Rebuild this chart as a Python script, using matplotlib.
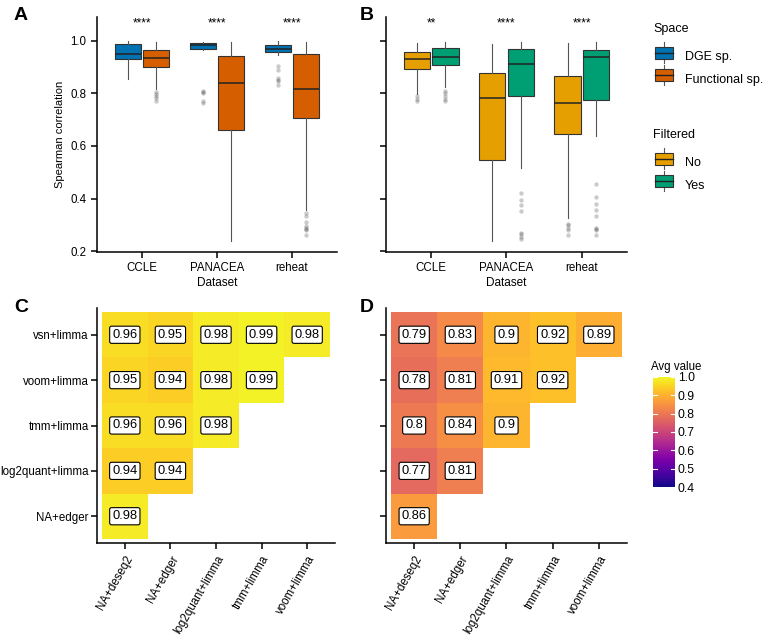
import numpy as np
import matplotlib
matplotlib.use("Agg")
import matplotlib.pyplot as plt
from matplotlib.patches import Rectangle
from matplotlib.lines import Line2D
from matplotlib.legend_handler import HandlerBase

plt.rcParams['font.family'] = ['Liberation Sans', 'DejaVu Sans']

datasets = ["CCLE", "PANACEA", "reheat"]

# box stats: [whislo, q1, med, q3, whishi]
a_dge = [[0.856, 0.929, 0.949, 0.986, 1.0],
         [0.965, 0.970, 0.982, 0.992, 0.996],
         [0.946, 0.956, 0.970, 0.982, 0.997]]
a_dge_out = [[], [0.81, 0.805, 0.80, 0.77, 0.765],
             [0.904, 0.89, 0.86, 0.85, 0.845, 0.832]]
a_fun = [[0.815, 0.900, 0.933, 0.963, 0.996],
         [0.238, 0.661, 0.838, 0.942, 0.994],
         [0.358, 0.706, 0.815, 0.948, 0.995]]
a_fun_out = [[0.806, 0.797, 0.789, 0.781, 0.772], [],
             [0.345, 0.335, 0.31, 0.295, 0.29, 0.285, 0.28, 0.263]]

b_no = [[0.797, 0.891, 0.930, 0.956, 0.990],
        [0.238, 0.548, 0.784, 0.876, 0.986],
        [0.326, 0.645, 0.765, 0.867, 0.990]]
b_no_out = [[0.788, 0.78, 0.77], [],
            [0.305, 0.30, 0.29, 0.28, 0.263]]
b_yes = [[0.823, 0.906, 0.939, 0.971, 0.995],
         [0.516, 0.788, 0.912, 0.970, 0.994],
         [0.636, 0.773, 0.937, 0.963, 0.994]]
b_yes_out = [[0.81, 0.80, 0.79, 0.78, 0.77],
             [0.421, 0.396, 0.377, 0.352, 0.27, 0.265, 0.255, 0.245],
             [0.455, 0.405, 0.381, 0.358, 0.333, 0.29, 0.285, 0.28, 0.263]]

a_stars = ["****", "****", "****"]
b_stars = ["**", "****", "****"]

methods_x = ["NA+deseq2", "NA+edger", "log2quant+limma", "tmm+limma", "voom+limma"]
methods_y = ["vsn+limma", "voom+limma", "tmm+limma", "log2quant+limma", "NA+edger"]
nan = np.nan
c_vals = [[0.96, 0.95, 0.98, 0.99, 0.98],
          [0.95, 0.94, 0.98, 0.99, nan],
          [0.96, 0.96, 0.98, nan, nan],
          [0.94, 0.94, nan, nan, nan],
          [0.98, nan, nan, nan, nan]]
d_vals = [[0.79, 0.83, 0.90, 0.92, 0.89],
          [0.78, 0.81, 0.91, 0.92, nan],
          [0.80, 0.84, 0.90, nan, nan],
          [0.77, 0.81, nan, nan, nan],
          [0.86, nan, nan, nan, nan]]

col_dge, col_fun = "#0072B2", "#D55E00"
col_no, col_yes = "#E69F00", "#009E73"

fig = plt.figure(figsize=(7.64, 6.35), dpi=100)
W, H = 764, 635
TS = 8.3  # tick label size


def add_ax(x0, y0, x1, y1):
    return fig.add_axes([x0 / W, 1 - y1 / H, (x1 - x0) / W, (y1 - y0) / H])


def style(ax):
    for s in ["top", "right"]:
        ax.spines[s].set_visible(False)
    for s in ["left", "bottom"]:
        ax.spines[s].set_linewidth(1.1)
    ax.tick_params(length=4, width=1.1, labelsize=TS, colors="black")


def draw_boxes(ax, stats1, out1, c1, stats2, out2, c2, stars):
    for stats, outs, col, off in [(stats1, out1, c1, -0.19), (stats2, out2, c2, 0.19)]:
        bx = []
        for s in stats:
            bx.append(dict(whislo=s[0], q1=s[1], med=s[2], q3=s[3], whishi=s[4], fliers=[]))
        pos = np.arange(1, len(stats) + 1) + off
        ax.bxp(bx, positions=pos, widths=0.35, patch_artist=True, showcaps=False,
               boxprops=dict(facecolor=col, edgecolor="#333333", linewidth=0.8),
               medianprops=dict(color="#222222", linewidth=1.1),
               whiskerprops=dict(color="#555555", linewidth=0.8))
        for i, o in enumerate(outs):
            ax.scatter([pos[i]] * len(o), o, s=10, color="#555555", alpha=0.3, linewidths=0, zorder=3)
    for i, st in enumerate(stars):
        ax.text(i + 1, 1.066, st, ha="center", va="center", fontsize=8.5)
    ax.set_xlim(0.4, 3.6)
    ax.set_ylim(0.197, 1.09)
    ax.set_xticks([1, 2, 3])
    ax.set_xticklabels(datasets)
    ax.set_yticks([0.2, 0.4, 0.6, 0.8, 1.0])
    ax.set_xlabel("Dataset", fontsize=8.5, labelpad=2)
    style(ax)


axA = add_ax(97, 17, 337, 252)
draw_boxes(axA, a_dge, a_dge_out, col_dge, a_fun, a_fun_out, col_fun, a_stars)
axA.set_ylabel("Spearman correlation", fontsize=8)

axB = add_ax(386, 17, 627, 252)
draw_boxes(axB, b_no, b_no_out, col_no, b_yes, b_yes_out, col_yes, b_stars)
axB.set_yticklabels([])

cmap = plt.get_cmap("plasma")


def draw_heat(ax, vals):
    arr = np.array(vals)[::-1]
    m = np.ma.masked_invalid(arr)
    ax.pcolormesh(np.arange(0.5, 6.0, 1), np.arange(0.5, 6.0, 1), m, cmap=cmap, vmin=0.4, vmax=1.0)
    for r in range(arr.shape[0]):
        for c in range(arr.shape[1]):
            v = arr[r, c]
            if not np.isnan(v):
                ax.text(c + 1, r + 1, f"{v:g}", ha="center", va="center", fontsize=9.3,
                        bbox=dict(boxstyle="round,pad=0.2,rounding_size=0.15", fc="white", ec="black", lw=0.8))
    ax.set_xlim(0.39, 5.61)
    ax.set_ylim(0.41, 5.59)
    ax.set_xticks(range(1, 6))
    ax.set_xticklabels(methods_x, rotation=60, ha="right", va="top", rotation_mode="anchor")
    ax.set_yticks(range(1, 6))
    ax.set_yticklabels(methods_y[::-1])
    style(ax)
    ax.tick_params(axis="y", pad=2)


axC = add_ax(97, 308, 335, 543)
draw_heat(axC, c_vals)
axD = add_ax(386, 308, 627, 543)
draw_heat(axD, d_vals)
axD.set_yticklabels([])

# colorbar
cax = add_ax(653, 377, 675, 487)
grad = np.linspace(0.4, 1.0, 200).reshape(-1, 1)
cax.imshow(grad, aspect="auto", cmap=cmap, origin="lower", extent=[0, 1, 0.4, 1.0])
cax.set_xticks([])
cax.yaxis.tick_right()
cb_ticks = [0.4, 0.5, 0.6, 0.7, 0.8, 0.9, 1.0]
cax.set_yticks(cb_ticks)
cax.tick_params(axis="y", length=0, labelsize=TS + 0.5, pad=2)
for t in cb_ticks:
    cax.plot([0, 0.2], [t, t], color="white", lw=0.8)
    cax.plot([0.8, 1], [t, t], color="white", lw=0.8)
cax.set_xlim(0, 1)
cax.set_ylim(0.4, 1.0)
for s in cax.spines.values():
    s.set_visible(False)
fig.text(651 / W, 1 - 367 / H, "Avg value", fontsize=8.3, va="center", ha="left")


# boxplot-like legend key: box, median line and whisker
class BoxKey:
    def __init__(self, col):
        self.col = col


class BoxKeyHandler(HandlerBase):
    def create_artists(self, legend, orig, xd, yd, w, h, fs, trans):
        cx = xd + w / 2
        rect = Rectangle((xd, yd), w, h, facecolor=orig.col, edgecolor="#333333", lw=0.8, transform=trans)
        wh = Line2D([cx, cx], [yd - 3, yd + h + 3], color="#555555", lw=0.8, transform=trans)
        md = Line2D([xd, xd + w], [yd + h / 2, yd + h / 2], color="#222222", lw=1.0, transform=trans)
        return [wh, rect, md]


hm = {BoxKey: BoxKeyHandler()}
common = dict(loc="upper left", frameon=False, fontsize=9,
              handler_map=hm, handlelength=1.4, handleheight=1.1, labelspacing=0.75,
              handletextpad=1.0, borderaxespad=0, borderpad=0)
fig.text(653 / W, 1 - 29 / H, "Space", fontsize=9, va="center", ha="left")
fig.legend([BoxKey(col_dge), BoxKey(col_fun)], ["DGE sp.", "Functional sp."],
           bbox_to_anchor=(655 / W, 1 - 50 / H), **common)
fig.text(653 / W, 1 - 135 / H, "Filtered", fontsize=9, va="center", ha="left")
fig.legend([BoxKey(col_no), BoxKey(col_yes)], ["No", "Yes"],
           bbox_to_anchor=(655 / W, 1 - 156 / H), **common)

for lab, x, y in [("A", 21, 16), ("B", 367, 16), ("C", 21, 308), ("D", 367, 308)]:
    fig.text(x / W, 1 - y / H, lab, fontsize=14, fontweight="bold", ha="center", va="center")

fig.savefig("out.png", dpi=100)
